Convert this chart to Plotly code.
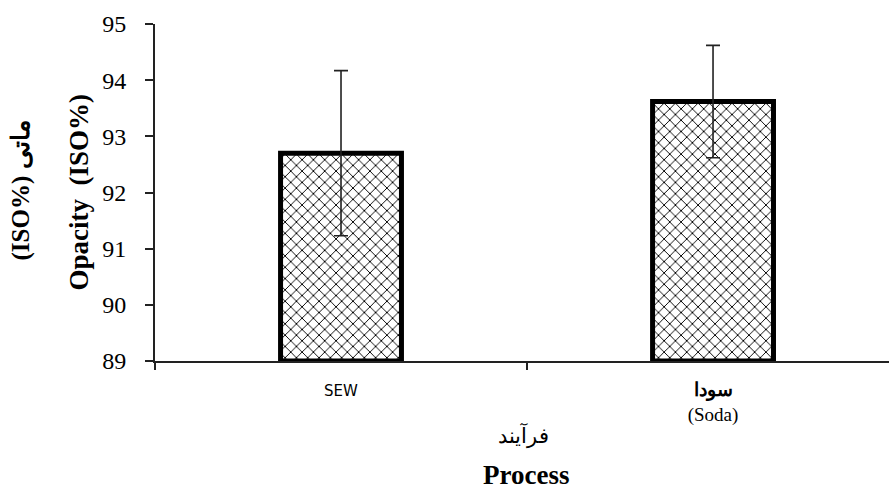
import plotly.graph_objects as go

# Opacity by pulping process
categories = ["SEW", "Soda"]
tick_labels = [
    "<span style='font-family:DejaVu Sans;font-size:15px'>SEW</span>",
    "<span style='font-family:Liberation Serif;font-size:19px;font-weight:bold'>سودا</span><br>"
    "<span style='font-family:Liberation Serif'>(Soda)</span>",
]
opacity = [92.7, 93.62]
opacity_err = [1.47, 1.0]
y_ticks = [89, 90, 91, 92, 93, 94, 95]

serif = "Liberation Serif"
axis_col = "#222222"

fig = go.Figure()
fig.add_trace(go.Bar(
    x=categories,
    y=[v - 89 for v in opacity],
    base=89,
    width=0.325,
    marker=dict(
        color="white",
        line=dict(color="black", width=5),
        pattern=dict(shape="x", fgcolor="black", bgcolor="white",
                     size=8, solidity=0.22, fillmode="replace"),
    ),
    error_y=dict(type="data", array=opacity_err, visible=True,
                 color="#222222", thickness=1.6, width=7),
    hoverinfo="skip",
))

fig.update_layout(
    width=889, height=489,
    margin=dict(l=155, r=0, t=24, b=128),
    paper_bgcolor="white", plot_bgcolor="white",
    showlegend=False,
    font=dict(family=serif, size=17, color="black"),
    xaxis=dict(
        type="category",
        categoryorder="array", categoryarray=categories,
        tickmode="array", tickvals=categories, ticktext=tick_labels,
        tickson="boundaries",
        range=[-0.5, 1.473],
        showline=True, linecolor=axis_col, linewidth=2,
        ticks="outside", ticklen=7, tickwidth=2, tickcolor=axis_col,
        ticklabelstandoff=10,
        tickfont=dict(family=serif, size=19, color="black"),
        showgrid=False, zeroline=False,
    ),
    yaxis=dict(
        range=[89, 95],
        tickmode="array", tickvals=y_ticks,
        showline=True, linecolor=axis_col, linewidth=2,
        ticks="outside", ticklen=8, tickwidth=2, tickcolor=axis_col,
        ticklabelstandoff=14,
        tickfont=dict(family=serif, size=24, color="black"),
        showgrid=False, zeroline=False,
    ),
)

# Axis titles (Persian and English)
fig.add_annotation(text="<b>Opacity  (ISO%)</b>", xref="paper", yref="paper",
                   x=0, y=0.5, xshift=-77, textangle=-90, showarrow=False,
                   xanchor="center", yanchor="middle",
                   font=dict(family=serif, size=27, color="black"))
fig.add_annotation(text="<b>(ISO%) ماتی</b>", xref="paper", yref="paper",
                   x=0, y=0.506, xshift=-134, textangle=-90, showarrow=False,
                   xanchor="center", yanchor="middle",
                   font=dict(family=serif, size=25, color="black"))
fig.add_annotation(text="فرآیند", xref="paper", yref="paper",
                   x=0.502, y=-0.22, showarrow=False,
                   xanchor="center", yanchor="middle",
                   font=dict(family=serif, size=21, color="black"))
fig.add_annotation(text="<b>Process</b>", xref="paper", yref="paper",
                   x=0.506, y=-0.387, showarrow=False, borderpad=0,
                   xanchor="center", yanchor="bottom",
                   font=dict(family=serif, size=27, color="black"))

fig.write_html("out.html")
